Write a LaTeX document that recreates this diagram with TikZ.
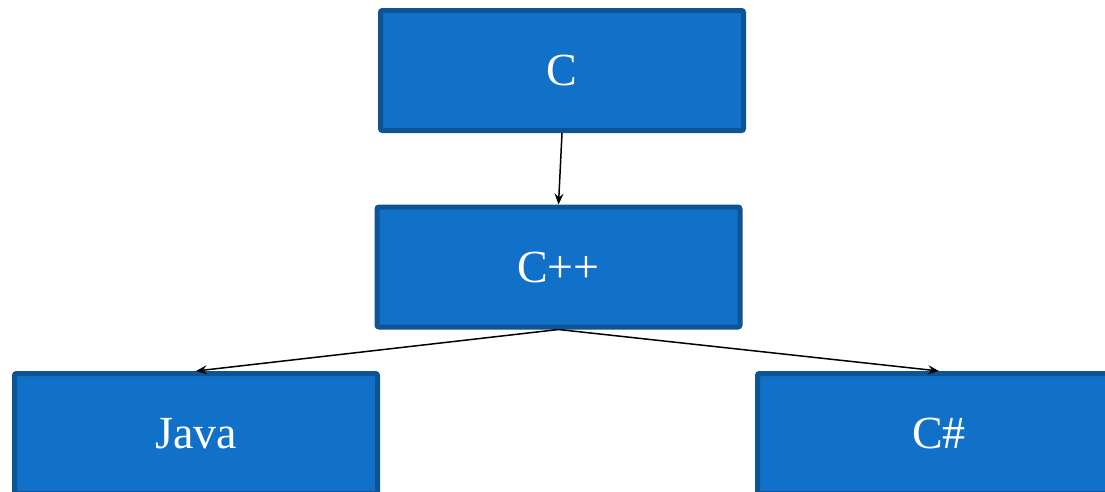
\documentclass[tikz,border=0pt]{standalone}
\usepackage{fontspec}
\setmainfont{Liberation Serif}
\usetikzlibrary{arrows.meta}
\definecolor{boxfill}{HTML}{1170C8}
\definecolor{boxline}{HTML}{0E5494}
\tikzset{
  langbox/.style={draw=boxline, fill=boxfill, line width=5pt, rounded corners=2pt,
    minimum width=363pt, minimum height=120pt, inner sep=0pt, text=white,
    font=\fontsize{46}{50}\selectfont},
  link/.style={line width=1.5pt, -{Stealth[length=11pt,width=9pt,inset=4pt]}}
}
\begin{document}
\begin{tikzpicture}[x=1pt,y=-1pt]
\useasboundingbox (0,0) rectangle (1105,491);
\clip (0,0) rectangle (1105,491);
\fill[white] (0,0) rectangle (1105,491);
\node[langbox] (C) at (562,70.5) {C};
\node[langbox] (Cpp) at (558.5,267) {C++};
\node[langbox] (Java) at (196,433.5) {Java};
\node[langbox] (Cs) at (939,433.5) {C\#};
\draw[link] (C.south) -- (Cpp.north);
\draw[link] (Cpp.south) -- (Java.north);
\draw[link] (Cpp.south) -- (Cs.north);
\end{tikzpicture}
\end{document}
